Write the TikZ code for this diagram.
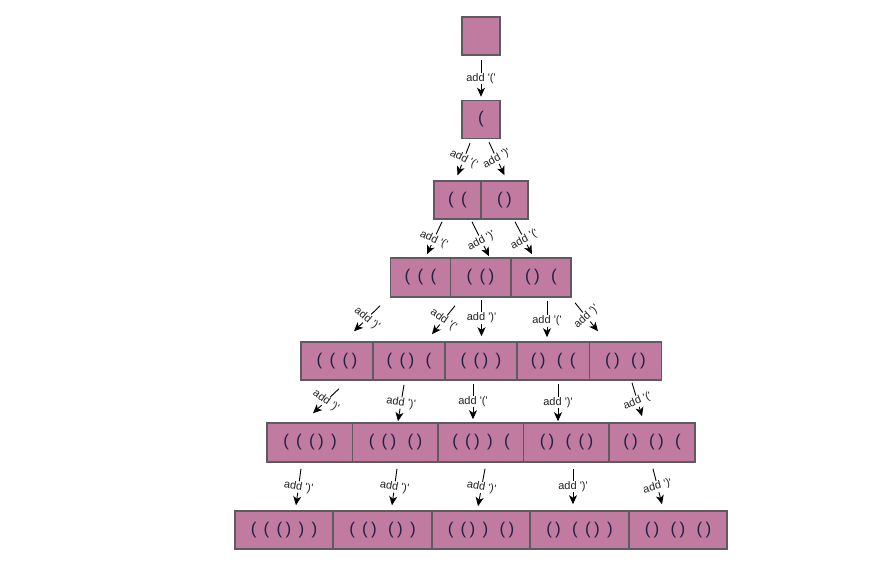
\documentclass[tikz,border=0pt]{standalone}
\usepackage{fontspec}
\setmainfont{Liberation Sans}
\newfontfamily\labfont{Liberation Sans}[Ligatures=TeXOff]
\usetikzlibrary{calc,arrows.meta}
\definecolor{boxfill}{RGB}{193,122,160}
\definecolor{boxline}{RGB}{95,90,95}
\definecolor{parcol}{RGB}{34,34,68}
\definecolor{labcol}{RGB}{34,34,34}
\newcommand\ka{\kern3.3pt}
\newcommand\kb{\kern7.3pt}
\newcommand\kc{\kern11.3pt}
\tikzset{
  pbox/.style={draw=boxline, line width=1.5pt, fill=boxfill, minimum height=38pt,
    inner sep=0pt, font=\fontsize{17}{19}\selectfont, text=parcol, anchor=center},
  arr/.style={-{Stealth[length=9pt,width=8pt,inset=2.5pt]}, line width=0.9pt, black},
  lab/.style={font=\labfont\fontsize{11}{13}\selectfont, text=labcol, fill=white, inner sep=0.6pt}
}
\begin{document}
\begin{tikzpicture}[x=1pt,y=-1pt]
\useasboundingbox (0,0) rectangle (886,561);
% row 0
\node[pbox, minimum width=38pt] (r0) at (481,36) {};
% row 1
\node[pbox, minimum width=38pt] (r1) at (481,119.5) {(};
% row 2
\node[pbox, minimum width=47pt] (r2a) at (457.5,200) {(\kb(};
\node[pbox, minimum width=47pt] (r2b) at (504.5,200) {(\ka)};
% row 3
\node[pbox, minimum width=60pt, minimum height=39pt] (r3a) at (420.5,277.5) {(\kb(\kb(};
\node[pbox, minimum width=60pt, minimum height=39pt] (r3b) at (480.5,277.5) {(\kb(\ka)};
\node[pbox, minimum width=60pt, minimum height=39pt] (r3c) at (541,277.5) {(\ka)\kc(};
% row 4
\node[pbox, minimum width=72.2pt] (r4a) at (337,361) {(\kb(\kb(\ka)};
\node[pbox, minimum width=72.2pt] (r4b) at (409,361) {(\kb(\ka)\kc(};
\node[pbox, minimum width=72.2pt] (r4c) at (481,361) {(\kb(\ka)\kb)};
\node[pbox, minimum width=72.2pt] (r4d) at (553.2,361) {(\ka)\kc(\kb(};
\node[pbox, minimum width=72.2pt] (r4e) at (625.5,361) {(\ka)\kc(\ka)};
% row 5
\node[pbox, minimum width=85.6pt, minimum height=39pt] (r5a) at (310,442.5) {(\kb(\kb(\ka)\kb)};
\node[pbox, minimum width=85.6pt, minimum height=39pt] (r5b) at (395.5,442.5) {(\kb(\ka)\kc(\ka)};
\node[pbox, minimum width=85.6pt, minimum height=39pt] (r5c) at (481,442.5) {(\kb(\ka)\kb)\kc(};
\node[pbox, minimum width=85.6pt, minimum height=39pt] (r5d) at (566.5,442.5) {(\ka)\kc(\kb(\ka)};
\node[pbox, minimum width=85.6pt, minimum height=39pt] (r5e) at (652,442.5) {(\ka)\kc(\ka)\kc(};
% row 6
\node[pbox, minimum width=98.4pt] (r6a) at (284,530) {(\kb(\kb(\ka)\kb)\kb)};
\node[pbox, minimum width=98.4pt] (r6b) at (382.5,530) {(\kb(\ka)\kc(\ka)\kb)};
\node[pbox, minimum width=98.4pt] (r6c) at (481,530) {(\kb(\ka)\kb)\kc(\ka)};
\node[pbox, minimum width=98.4pt] (r6d) at (579.5,530) {(\ka)\kc(\kb(\ka)\kb)};
\node[pbox, minimum width=98.4pt] (r6e) at (678,530) {(\ka)\kc(\ka)\kc(\ka)};
% arrows 0-1
\draw[arr] ($(r0.south)+(0,4)$) -- node[lab]{add '('} ($(r1.north)+(0,-3)$);
% arrows 1-2
\draw[arr] ($(r1.south)+(-11,4)$) -- node[lab, rotate=-27]{add '('} ($(r2a.north)+(0,-5)$);
\draw[arr] ($(r1.south)+(8,3)$) -- node[lab, rotate=29]{add ')'} ($(r2b.north)+(0,-5)$);
% arrows 2-3
\draw[arr] ($(r2a.south)+(-15.5,2)$) -- node[lab, pos=0.55, rotate=-25]{add '('} ($(r3a.north)+(6.5,-3)$);
\draw[arr] ($(r2a.south)+(14.5,2)$) -- node[lab, pos=0.55, rotate=28]{add ')'} ($(r3b.north)+(8.5,-1)$);
\draw[arr] ($(r2b.south)+(10.5,2)$) -- node[lab, pos=0.55, rotate=28]{add '('} ($(r3c.north)+(-9,-3)$);
% arrows 3-4
\draw[arr] ($(r3a.south)+(-40.5,8)$) -- node[lab, rotate=-40]{add ')'} ($(r4a.north)+(17,-10)$);
\draw[arr] ($(r3b.south)+(-25.5,8)$) -- node[lab, rotate=-35]{add '('} ($(r4b.north)+(23,-7)$);
\draw[arr] ($(r3b.south)+(1,2)$) -- node[lab]{add ')'} ($(r4c.north)+(0.5,-5)$);
\draw[arr] ($(r3c.south)+(6,3)$) -- node[lab, pos=0.55]{add '('} ($(r4d.north)+(-6.2,-4)$);
\draw[arr] ($(r3c.south)+(34,5)$) -- node[lab, rotate=42]{add ')'} ($(r4e.north)+(-27.5,-10)$);
% arrows 4-5
\draw[arr] ($(r4a.south)+(2,8)$) -- node[lab, rotate=-36]{add ')'} ($(r5a.north)+(3,-9)$);
\draw[arr] ($(r4b.south)+(-5,4)$) -- node[lab, rotate=-8]{add ')'} ($(r5b.north)+(2.5,-1)$);
\draw[arr] ($(r4c.south)+(-8,3)$) -- node[lab]{add '('} ($(r5c.north)+(-8,-3)$);
\draw[arr] ($(r4d.south)+(4.8,3)$) -- node[lab]{add ')'} ($(r5d.north)+(-8.5,-1)$);
\draw[arr] ($(r4e.south)+(6.5,2)$) -- node[lab, pos=0.55, rotate=22]{add '('} ($(r5e.north)+(-10,-6)$);
% arrows 5-6
\draw[arr] ($(r5a.south)+(-9,6)$) -- node[lab, rotate=-10]{add ')'} ($(r6a.north)+(12,-5)$);
\draw[arr] ($(r5b.south)+(1.5,6)$) -- node[lab, rotate=-10]{add ')'} ($(r6b.north)+(9.5,-5)$);
\draw[arr] ($(r5c.south)+(4,6)$) -- node[lab, rotate=-10]{add ')'} ($(r6c.north)+(-3,-4)$);
\draw[arr] ($(r5d.south)+(6.5,6)$) -- node[lab]{add ')'} ($(r6d.north)+(-6.5,-6)$);
\draw[arr] ($(r5e.south)+(1,6)$) -- node[lab, rotate=15]{add ')'} ($(r6e.north)+(-16,-6)$);
\end{tikzpicture}
\end{document}
